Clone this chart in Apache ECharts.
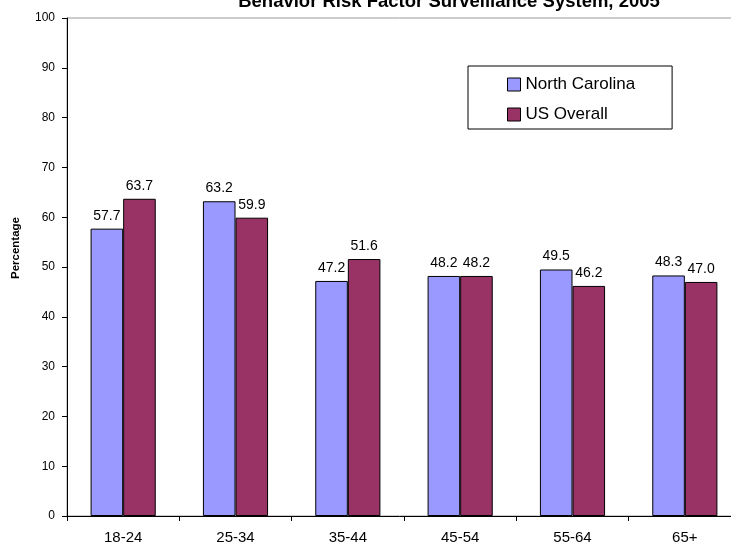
<!DOCTYPE html>
<html>
<head>
<meta charset="utf-8">
<script src="https://cdn.jsdelivr.net/npm/echarts@6/dist/echarts.min.js"></script>
<style>
  html, body { margin: 0; padding: 0; background: #fff; }
  #chart { width: 731px; height: 544px; }
</style>
</head>
<body>
<div id="chart"></div>
<script>
const ageGroups = ["18-24", "25-34", "35-44", "45-54", "55-64", "65+"];
const northCarolina = [57.7, 63.2, 47.2, 48.2, 49.5, 48.3];
const usOverall = [63.7, 59.9, 51.6, 48.2, 46.2, 47.0];
const yTicks = [0, 10, 20, 30, 40, 50, 60, 70, 80, 90, 100];

const FONT = "Liberation Sans, Arial, sans-serif";
const chart = echarts.init(document.getElementById("chart"));

const barLabel = {
  show: true,
  position: "top",
  distance: 6,
  color: "#000",
  fontFamily: FONT,
  fontSize: 14,
  formatter: (p) => p.value.toFixed(1),
};

chart.setOption({
  animation: false,
  title: {
    text: "Behavior Risk Factor Surveillance System, 2005",
    left: 444,
    top: -13,
    textAlign: "center",
    textStyle: {
      fontFamily: FONT,
      fontSize: 18.5,
      fontWeight: "bold",
      color: "#000",
    },
  },
  legend: {
    orient: "vertical",
    left: 468,
    top: 66,
    padding: [10, 37, 6, 39],
    itemGap: 13,
    itemWidth: 13,
    itemHeight: 13,
    icon: "rect",
    itemStyle: { borderColor: "#000", borderWidth: 1 },
    borderColor: "#000",
    borderWidth: 1,
    textStyle: {
      fontFamily: FONT,
      fontSize: 17,
      lineHeight: 17,
      color: "#000",
    },
    data: ["North Carolina", "US Overall"],
  },
  // plot runs past the right edge of the picture, like the source
  grid: {
    left: 67,
    width: 674,
    top: 18,
    bottom: 28,
    outerBoundsMode: "none",
    show: true,
    borderColor: "#999",
    borderWidth: 1,
  },
  xAxis: {
    type: "category",
    data: ageGroups,
    axisLine: { lineStyle: { color: "#000", width: 1 } },
    axisTick: { show: true, length: 5, lineStyle: { color: "#000" } },
    axisLabel: {
      color: "#000",
      fontFamily: FONT,
      fontSize: 15,
      margin: 14,
    },
  },
  yAxis: {
    type: "value",
    min: 0,
    max: yTicks[yTicks.length - 1],
    interval: yTicks[1] - yTicks[0],
    axisLine: { show: true, lineStyle: { color: "#000", width: 1 } },
    axisTick: { show: true, length: 5, lineStyle: { color: "#000" } },
    splitLine: { show: false },
    axisLabel: {
      color: "#000",
      fontFamily: FONT,
      fontSize: 12,
      margin: 12,
    },
  },
  graphic: [
    {
      type: "text",
      x: 16,
      y: 248,
      rotation: Math.PI / 2,
      style: {
        text: "Percentage",
        fill: "#000",
        font: "bold 11.5px " + FONT,
        textAlign: "center",
        textVerticalAlign: "middle",
      },
    },
  ],
  series: [
    {
      name: "North Carolina",
      type: "bar",
      data: northCarolina,
      barGap: "0%",
      barCategoryGap: "42%",
      itemStyle: { color: "#9999FF", borderColor: "#000", borderWidth: 1 },
      label: barLabel,
    },
    {
      name: "US Overall",
      type: "bar",
      data: usOverall,
      itemStyle: { color: "#993366", borderColor: "#000", borderWidth: 1 },
      label: barLabel,
    },
  ],
});
</script>
</body>
</html>
